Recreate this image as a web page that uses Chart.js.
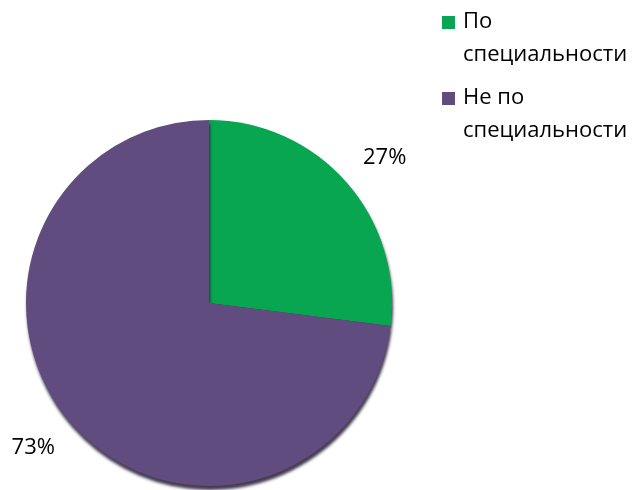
<!DOCTYPE html>
<html>
<head>
<meta charset="utf-8">
<script src="https://cdn.jsdelivr.net/npm/chart.js@4"></script>
<style>
  html, body { margin: 0; padding: 0; background: #ffffff; }
  #wrap { width: 635px; height: 490px; }
</style>
</head>
<body>
<div id="wrap"><canvas id="pie-chart" width="635" height="490"></canvas></div>
<script>
var labels = [['По', 'специальности'], ['Не по', 'специальности']];
var values = [27, 73];
var percentLabels = ['27%', '73%'];
var colors = ['#08a650', '#604c7e'];

var ctx = document.getElementById('pie-chart');
var chart = new Chart(ctx, {
    type: 'pie',
    data: {
        labels: labels,
        datasets: [{
            data: values,
            backgroundColor: colors,
            borderWidth: 0,
            hoverOffset: 0,
            offset: 0
        }]
    },
    options: {
        responsive: false,
        animation: false,
        events: [],
        layout: {
            padding: { left: 24, right: 241, top: 120, bottom: 4 }
        },
        plugins: {
            legend: { display: false },
            tooltip: { enabled: false }
        }
    },
    plugins: [{
        id: 'pie-shadow',
        beforeDatasetsDraw: function (chart) {
            var c = chart.ctx;
            c.save();
            c.shadowColor = 'rgba(35, 25, 50, 0.85)';
            c.shadowOffsetY = 4;
            c.shadowOffsetX = 1;
            c.shadowBlur = 3;
        },
        afterDatasetsDraw: function (chart) {
            chart.ctx.restore();
        }
    }, {
        id: 'outside-labels',
        afterDraw: function (chart) {
            var c = chart.ctx;
            var arcs = chart.getDatasetMeta(0).data;
            c.save();
            c.fillStyle = '#000000';
            c.textAlign = 'center';
            c.textBaseline = 'middle';
            c.font = '22px "Open Sans", sans-serif';
            arcs.forEach(function (arc, i) {
                var p = arc.getProps(['x', 'y', 'startAngle', 'endAngle', 'outerRadius'], true);
                var mid = (p.startAngle + p.endAngle) / 2;
                c.fillText(percentLabels[i],
                    p.x + Math.cos(mid) * p.outerRadius * 1.28,
                    p.y + Math.sin(mid) * p.outerRadius * 1.2);
            });
            c.restore();
        }
    }, {
        id: 'side-legend',
        afterDraw: function (chart) {
            var c = chart.ctx;
            var x = 442, y = 22, lineH = 33, gap = 10;
            c.save();
            c.textAlign = 'left';
            c.textBaseline = 'middle';
            c.font = '22px "Open Sans", sans-serif';
            labels.forEach(function (lines, i) {
                c.fillStyle = colors[i];
                c.fillRect(x, y - 6, 13, 13);
                c.fillStyle = '#000000';
                lines.forEach(function (t, j) {
                    c.fillText(t, x + 21, y + j * lineH);
                });
                y += lines.length * lineH + gap;
            });
            c.restore();
        }
    }]
});
</script>
</body>
</html>
